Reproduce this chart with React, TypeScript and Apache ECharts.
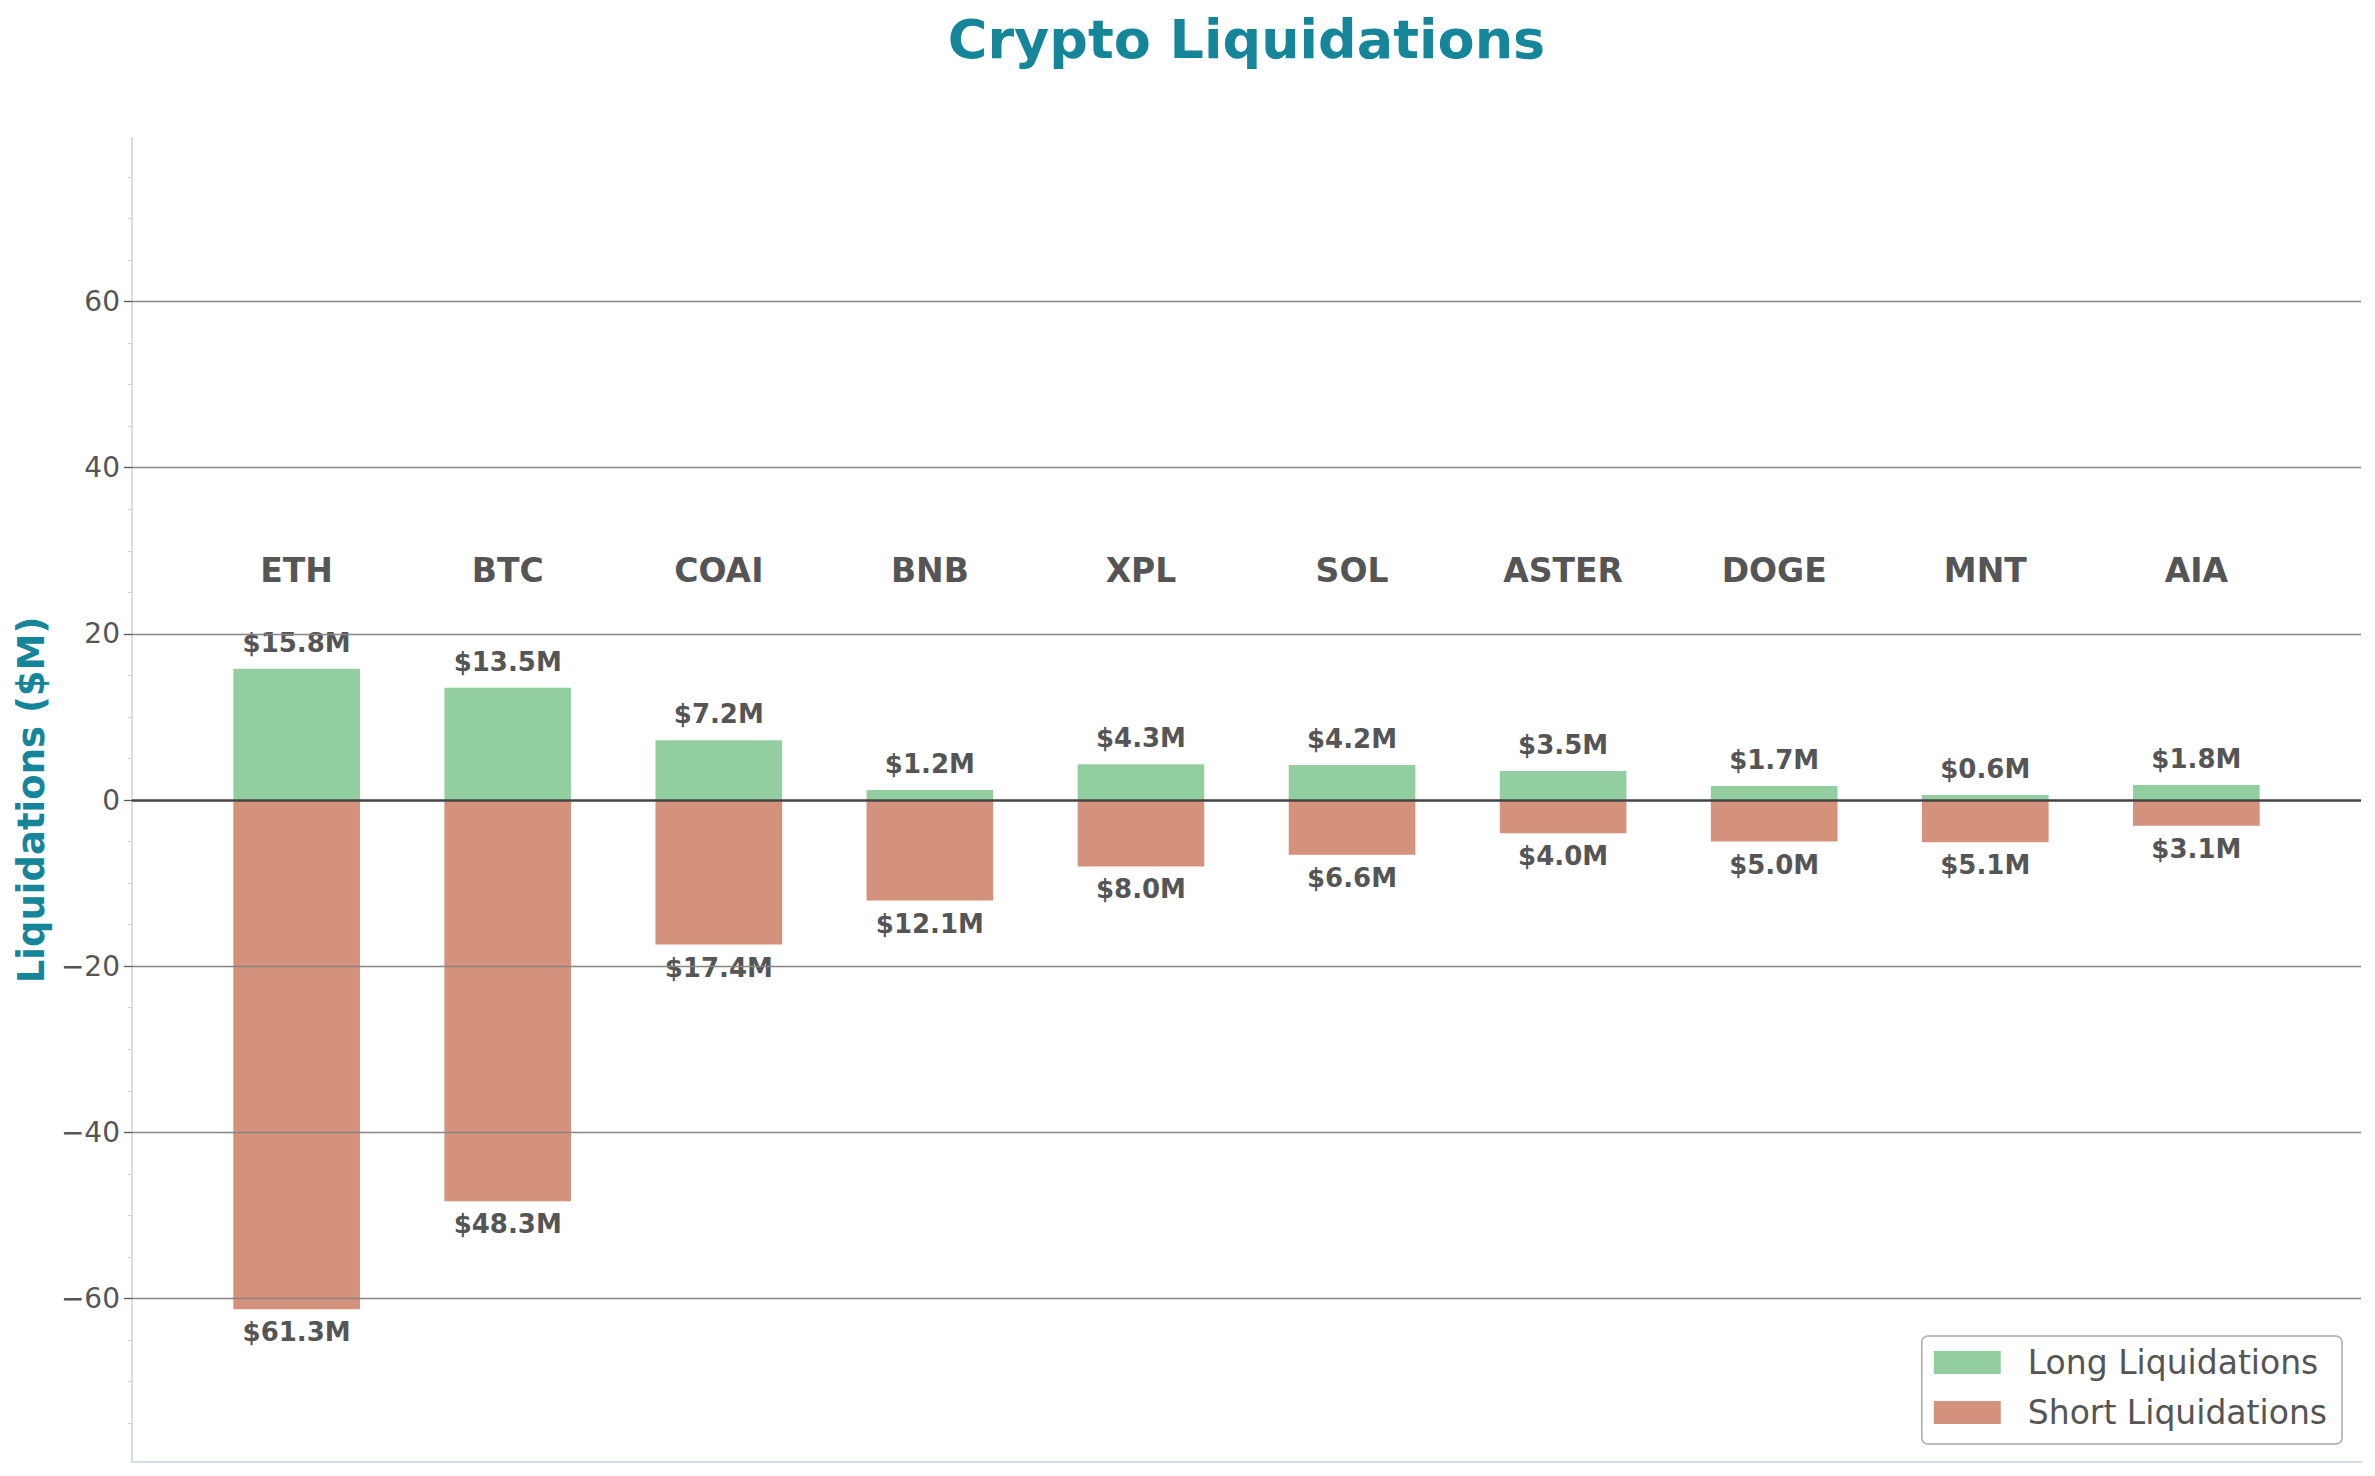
import React, { useEffect, useRef } from "react";
import * as echarts from "echarts";

const categories = ["ETH", "BTC", "COAI", "BNB", "XPL", "SOL", "ASTER", "DOGE", "MNT", "AIA"];
const longValues = [15.8, 13.5, 7.2, 1.2, 4.3, 4.2, 3.5, 1.7, 0.6, 1.8];
const shortValues = [61.3, 48.3, 17.4, 12.1, 8.0, 6.6, 4.0, 5.0, 5.1, 3.1];
const majorTicks = [-60, -40, -20, 0, 20, 40, 60];
const minorTicks = [-75, -70, -65, -55, -50, -45, -35, -30, -25, -15, -10, -5, 5, 10, 15, 25, 30, 35, 45, 50, 55, 65, 70, 75];
const Y_LIMIT = 79.69;
const X_MIN = -0.78;
const X_MAX = 9.78;
const CATEGORY_LABEL_Y = 27.65;

const FONT = "DejaVu Sans";
const TEAL = "#15869a";
const TEXT = "#555555";

const W = 2375;
const H = 1476;
const GRID = { left: 132, right: 14, top: 138, bottom: 14 };

export default function App() {
  const ref = useRef<HTMLDivElement>(null);

  useEffect(() => {
    if (!ref.current) return;
    const chart = echarts.init(ref.current, null, { renderer: "svg" });
    const plotW = W - GRID.left - GRID.right;
    const barWidth = (plotW / (X_MAX - X_MIN)) * 0.6;
    const money = (v: number) => "$" + Math.abs(v).toFixed(1) + "M";

    chart.setOption({
      animation: false,
      backgroundColor: "#ffffff",
      textStyle: { fontFamily: FONT },
      title: {
        text: "Crypto Liquidations",
        left: GRID.left + plotW / 2,
        textAlign: "center",
        top: 12.5,
        padding: 0,
        textStyle: { fontSize: 54, fontWeight: "bold", color: TEAL, fontFamily: FONT },
      },
      grid: { ...GRID },
      legend: {
        data: ["Long Liquidations", "Short Liquidations"],
        orient: "vertical",
        right: 33,
        bottom: 32,
        icon: "rect",
        itemWidth: 67,
        itemHeight: 23,
        itemGap: 17,
        padding: [10, 15, 15, 12],
        borderColor: "#a8a8a8",
        borderWidth: 1.5,
        borderRadius: 6,
        backgroundColor: "rgba(255,255,255,0.8)",
        textStyle: { fontSize: 33, color: TEXT, fontFamily: FONT, padding: [0, 0, 0, 22] },
      },
      xAxis: {
        type: "value",
        min: X_MIN,
        max: X_MAX,
        axisLine: { show: true, onZero: false, lineStyle: { color: "#d5dde9", width: 2 } },
        axisTick: { show: false },
        axisLabel: { show: false },
        splitLine: { show: false },
      },
      yAxis: [
        {
          type: "value",
          position: "left",
          min: -Y_LIMIT,
          max: Y_LIMIT,
          name: "Liquidations ($M)",
          nameLocation: "middle",
          nameGap: 81,
          nameTextStyle: { fontSize: 37, fontWeight: "bold", color: TEAL, fontFamily: FONT },
          axisLine: { show: true, onZero: false, lineStyle: { color: "#d5dde9", width: 2 } },
          axisTick: { show: true, customValues: majorTicks, length: 8, lineStyle: { color: TEXT, width: 1.3 } },
          axisLabel: {
            customValues: majorTicks,
            fontSize: 28,
            color: TEXT,
            margin: 12,
            fontFamily: FONT,
            formatter: (v: number) => (v < 0 ? "\u2212" + Math.abs(v) : String(v)),
          },
          splitLine: { show: false },
        },
        {
          type: "value",
          position: "left",
          min: -Y_LIMIT,
          max: Y_LIMIT,
          axisLine: { show: false, onZero: false },
          axisTick: { show: true, customValues: minorTicks, length: 4, lineStyle: { color: "#d3d3d3", width: 1 } },
          axisLabel: { show: false },
          splitLine: { show: false },
        },
      ],
      series: [
        {
          type: "line",
          data: [],
          z: 1,
          silent: true,
          markLine: {
            silent: true,
            symbol: ["none", "none"],
            label: { show: false },
            lineStyle: { color: "#858585", width: 1.3, type: "solid" },
            data: majorTicks.filter((v) => v !== 0).map((v) => ({ yAxis: v })),
          },
        },
        {
          name: "Long Liquidations",
          type: "bar",
          stack: "liq",
          z: 3,
          barWidth,
          data: longValues.map((v, i) => [i, v]),
          itemStyle: { color: "rgba(120,194,138,0.8)" },
          label: {
            show: true,
            position: "top",
            distance: 13,
            formatter: (p: any) => money(p.value[1]),
            fontSize: 26,
            fontWeight: "bold",
            color: TEXT,
            fontFamily: FONT,
          },
        },
        {
          name: "Short Liquidations",
          type: "bar",
          stack: "liq",
          z: 3,
          barWidth,
          data: shortValues.map((v, i) => [i, -v]),
          itemStyle: { color: "rgba(201,118,91,0.8)" },
          label: {
            show: true,
            position: "bottom",
            distance: 10,
            formatter: (p: any) => money(p.value[1]),
            fontSize: 26,
            fontWeight: "bold",
            color: TEXT,
            fontFamily: FONT,
          },
        },
        {
          type: "line",
          data: [],
          z: 10,
          silent: true,
          markLine: {
            silent: true,
            symbol: ["none", "none"],
            label: { show: false },
            lineStyle: { color: "#444444", width: 2.6, type: "solid" },
            data: [{ yAxis: 0 }],
          },
        },
        {
          type: "scatter",
          z: 11,
          silent: true,
          symbolSize: 1,
          itemStyle: { color: "rgba(0,0,0,0)", opacity: 1 },
          data: categories.map((c, i) => [i, CATEGORY_LABEL_Y]),
          label: {
            show: true,
            position: "inside",
            formatter: (p: any) => categories[p.dataIndex],
            fontSize: 33,
            fontWeight: "bold",
            color: TEXT,
            fontFamily: FONT,
          },
        },
      ],
    });

    return () => chart.dispose();
  }, []);

  return (
    <div
      ref={ref}
      style={{ position: "absolute", left: 0, top: 0, width: W, height: H }}
    />
  );
}
